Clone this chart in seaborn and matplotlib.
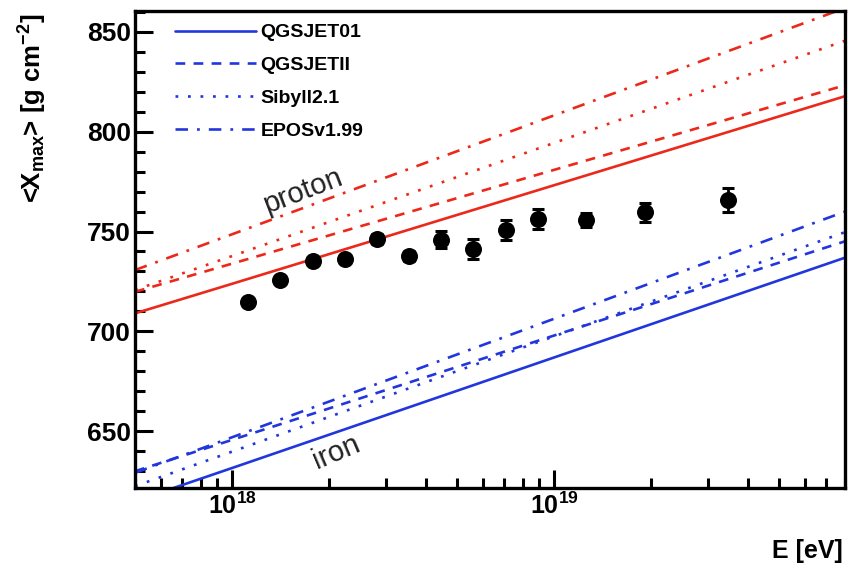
import matplotlib
matplotlib.use('Agg')
import matplotlib.pyplot as plt
from matplotlib.lines import Line2D
from matplotlib.ticker import MultipleLocator, LogLocator, NullFormatter
import seaborn as sns
import numpy as np
import pandas as pd

# measured <Xmax> vs energy
energy = [1.12e18, 1.41e18, 1.78e18, 2.24e18, 2.82e18, 3.55e18, 4.47e18,
          5.62e18, 7.08e18, 8.91e18, 1.26e19, 1.91e19, 3.47e19]
xmax = [714.7, 725.5, 735.2, 736.3, 746.3, 737.5, 746.0,
        741.3, 750.8, 756.3, 756.0, 759.6, 766.0]
xmax_err = [2.0, 2.0, 2.0, 2.0, 2.5, 2.5, 4.3, 5.0, 5.0, 5.2, 3.5, 4.7, 6.0]

# model predictions (read at 5e17, 1e18, 1e19, 8e19 eV)
model_energy = [5e17, 1e18, 1e19, 8e19]
models = ['QGSJET01', 'QGSJETII', 'Sibyll2.1', 'EPOSv1.99']
proton_qgsjet01 = [709.0, 723.8, 773.2, 817.8]
proton_qgsjetii = [719.8, 733.9, 780.9, 823.3]
proton_sibyll = [720.7, 737.7, 794.4, 845.6]
proton_epos = [730.7, 748.6, 808.2, 862.0]
iron_qgsjet01 = [614.9, 631.5, 686.9, 736.9]
iron_qgsjetii = [629.9, 645.6, 697.9, 745.1]
iron_sibyll = [622.4, 639.7, 697.5, 749.7]
iron_epos = [629.1, 646.9, 706.3, 760.0]

sns.set_theme(style='ticks')
plt.rcParams['font.family'] = ['Liberation Sans', 'DejaVu Sans']
plt.rcParams['mathtext.fontset'] = 'custom'
plt.rcParams['mathtext.rm'] = 'Liberation Sans'
plt.rcParams['mathtext.bf'] = 'Liberation Sans:bold'
plt.rcParams['mathtext.default'] = 'bf'
plt.rcParams['lines.scale_dashes'] = False
for key in ['text.color', 'axes.labelcolor', 'xtick.color', 'ytick.color', 'axes.edgecolor']:
    plt.rcParams[key] = 'black'

red = '#ec281a'
blue = '#2236dd'
styles = {
    'QGSJET01': dict(linestyle='-'),
    'QGSJETII': dict(dashes=(7, 6)),
    'Sibyll2.1': dict(dashes=(2, 7)),
    'EPOSv1.99': dict(dashes=(9, 6.5, 2, 6.5)),
}

rows = []
for comp, series in [('proton', [proton_qgsjet01, proton_qgsjetii, proton_sibyll, proton_epos]),
                     ('iron', [iron_qgsjet01, iron_qgsjetii, iron_sibyll, iron_epos])]:
    for m, vals in zip(models, series):
        for e, v in zip(model_energy, vals):
            rows.append({'E': e, 'Xmax': v, 'model': m, 'comp': comp})
df = pd.DataFrame(rows)

fig = plt.figure(figsize=(8.48, 5.67), dpi=100)
ax = fig.add_axes([135 / 848, 79 / 567, 710 / 848, 477 / 567])

for (comp, m), sub in df.groupby(['comp', 'model']):
    color = red if comp == 'proton' else blue
    sns.lineplot(data=sub, x='E', y='Xmax', ax=ax, color=color, lw=1.9,
                 legend=False, **styles[m])

ax.errorbar(energy, xmax, yerr=xmax_err, fmt='none', ecolor='black',
            elinewidth=2, capsize=4.5, capthick=2.2, zorder=4)
sns.scatterplot(x=energy, y=xmax, ax=ax, color='black', s=150,
                edgecolor='black', linewidth=0, zorder=5)

ax.set_xscale('log')
ax.set_xlim(5e17, 8e19)
ax.set_ylim(621.5, 860.5)
ax.set_xticks([1e18, 1e19], labels=[r'$10^{18}$', r'$10^{19}$'])
ax.xaxis.set_minor_locator(LogLocator(base=10, subs=np.arange(2, 10)))
ax.xaxis.set_minor_formatter(NullFormatter())
ax.yaxis.set_major_locator(MultipleLocator(50))
ax.yaxis.set_minor_locator(MultipleLocator(10))
ax.tick_params(which='both', direction='in', top=False, right=False,
               width=2.2, color='black', labelcolor='black', pad=3)
ax.tick_params(axis='y', labelsize=19)
ax.tick_params(axis='x', labelsize=18)
ax.tick_params(which='major', length=13)
ax.tick_params(which='minor', length=7)
for lab in ax.get_yticklabels() + ax.get_xticklabels():
    lab.set_fontweight('bold')
for sp in ax.spines.values():
    sp.set_linewidth(2.4)
    sp.set_color('black')
ax.set_xlabel('')
ax.set_ylabel('')

ax.text(1.66e18, 770.5, 'proton', rotation=21, fontsize=21, color='#222222',
        ha='center', va='center')
ax.text(2.1e18, 639.5, 'iron', rotation=23, fontsize=21, color='#222222',
        ha='center', va='center')

fig.text(33 / 848, 1 - 14 / 567, r'<X$_{max}$> [g cm$^{-2}$]', rotation=90,
         fontsize=18.5, fontweight='bold', ha='center', va='top')
fig.text(843 / 848, 1 - 551 / 567, 'E [eV]', fontsize=18, fontweight='bold',
         ha='right', va='center')

handles = [Line2D([], [], color=blue, lw=1.9, **styles[m]) for m in models]
leg = ax.legend(handles, models, loc='upper left', bbox_to_anchor=(0.056, 0.973),
                frameon=False, handlelength=4.2, handletextpad=0.2,
                labelspacing=0.78, borderpad=0, borderaxespad=0,
                prop={'weight': 'bold', 'size': 14})

fig.savefig('out.png', dpi=100)
